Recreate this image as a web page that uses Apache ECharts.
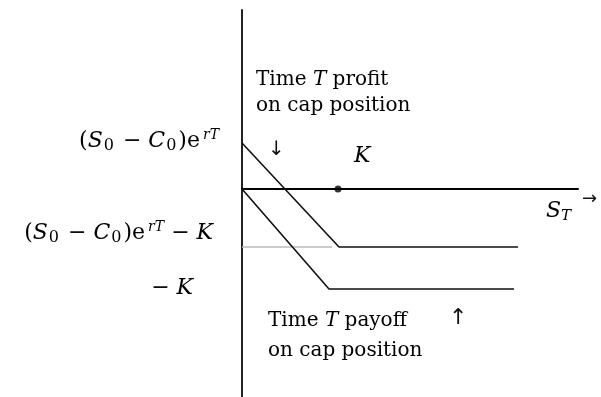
<!DOCTYPE html>
<html>
<head>
<meta charset="utf-8">
<script src="https://cdn.jsdelivr.net/npm/echarts@6/dist/echarts.min.js"></script>
<style>
  html, body { margin: 0; padding: 0; background: #fff; }
  #main { width: 601px; height: 397px; }
</style>
</head>
<body>
<div id="main"></div>
<script>
// values in chart units (S_T along x, money along y)
const K = 96
const profitX = [0, 97, 276]
const profitY = [46, -58, -58]
const payoffX = [0, 87, 272]
const payoffY = [0, -100, -100]
const guideX = [0, 90]
const guideY = [-58, -58]

const xRange = [0, 336]
const yRange = [-208, 179]

const toPairs = (xs, ys) => xs.map((x, i) => [x, ys[i]])

var myChart = echarts.init(document.getElementById('main'))

const serif = 'DejaVu Serif'
const rich = {
  n: { fontFamily: serif, fontSize: 22, color: '#111', lineHeight: 26 },
  t: { fontFamily: serif, fontSize: 20, color: '#111', lineHeight: 26 },
  ti: { fontFamily: serif, fontStyle: 'italic', fontSize: 20, color: '#111', lineHeight: 26 },
  op: { fontFamily: serif, fontSize: 22, color: '#111', lineHeight: 26, padding: [0, 7, 0, 7] },
  i: { fontFamily: serif, fontStyle: 'italic', fontSize: 22, color: '#111', lineHeight: 26 },
  sub: { fontFamily: serif, fontSize: 16, color: '#111', lineHeight: 16, verticalAlign: 'bottom', padding: [0, 2, 0, 1] },
  isub: { fontFamily: serif, fontStyle: 'italic', fontSize: 15, color: '#111', lineHeight: 15, verticalAlign: 'bottom' },
  sup: { fontFamily: serif, fontStyle: 'italic', fontSize: 14, color: '#111', lineHeight: 14, verticalAlign: 'top', padding: [0, 0, 0, 3] },
}
const expr = '{n|(}{i|S}{sub|0}{op|−}{i|C}{sub|0}{n|)e}{sup|rT}'

function label(x, y, text, align) {
  return {
    type: 'text', x: x, y: y,
    style: { text: text, rich: rich, align: align || 'left', verticalAlign: 'middle' },
  }
}

let option = {
  animation: false,
  grid: { left: 242, right: 23, top: 10, bottom: 0 },
  xAxis: {
    type: 'value',
    min: xRange[0],
    max: xRange[1],
    axisLine: { onZero: true, lineStyle: { color: '#000', width: 2 } },
    axisTick: { show: false },
    axisLabel: { show: false },
    splitLine: { show: false },
  },
  yAxis: {
    type: 'value',
    min: yRange[0],
    max: yRange[1],
    axisLine: { show: true, lineStyle: { color: '#222', width: 2 } },
    axisTick: { show: false },
    axisLabel: { show: false },
    splitLine: { show: false },
  },
  series: [
    {
      type: 'line',
      data: toPairs(guideX, guideY),
      symbol: 'none',
      lineStyle: { color: '#bbb', width: 1.5 },
      z: 1,
    },
    {
      name: 'profit',
      type: 'line',
      data: toPairs(profitX, profitY),
      symbol: 'none',
      lineStyle: { color: '#111', width: 1.6 },
    },
    {
      name: 'payoff',
      type: 'line',
      data: toPairs(payoffX, payoffY),
      symbol: 'none',
      lineStyle: { color: '#111', width: 1.6 },
    },
    {
      type: 'scatter',
      data: [[K, 0]],
      symbolSize: 7,
      itemStyle: { color: '#000' },
      z: 5,
    },
  ],
  graphic: [
    label(219, 141, expr, 'right'),
    label(213, 233, expr + '{op|−}{i|K}', 'right'),
    label(193, 288, '{op|−}{i|K}', 'right'),
    label(354, 156, '{i|K}'),
    label(546, 211, '{i|S}{isub|T}'),
    { type: 'text', x: 582, y: 199, style: { text: '→', font: '18px DejaVu Sans', fill: '#111', verticalAlign: 'middle' } },
    label(256, 80, '{t|Time }{ti|T}{t| profit}'),
    label(256, 106, '{t|on cap position}'),
    { type: 'text', x: 268, y: 150, style: { text: '↓', font: '20px DejaVu Sans', fill: '#111', verticalAlign: 'middle' } },
    label(268, 321, '{t|Time }{ti|T}{t| payoff}'),
    label(268, 351, '{t|on cap position}'),
    { type: 'text', x: 449, y: 318, style: { text: '↑', font: '22px DejaVu Sans', fill: '#111', verticalAlign: 'middle' } },
  ],
}
myChart.setOption(option)
</script>
</body>
</html>
